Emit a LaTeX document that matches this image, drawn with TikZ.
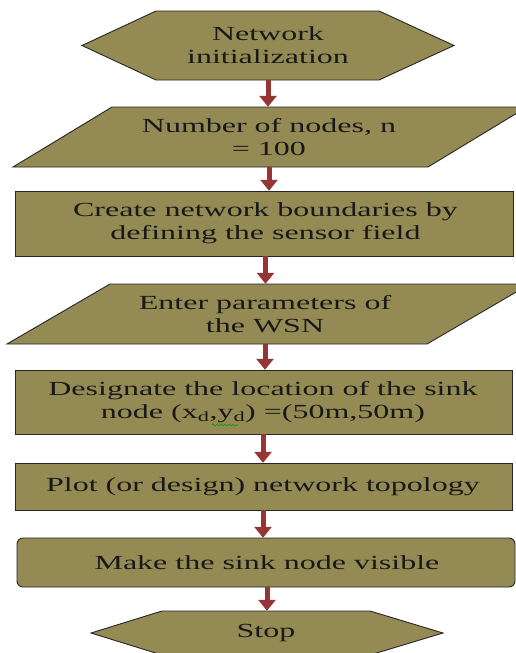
\documentclass[tikz,border=0pt]{standalone}
\usepackage{fontspec}
\setmainfont{Liberation Serif}[FakeStretch=1.6]
\usetikzlibrary{arrows.meta,decorations.pathmorphing}
\definecolor{olivefill}{RGB}{148,138,84}
\definecolor{arrowred}{RGB}{150,54,52}
\tikzset{
  shapeline/.style={fill=olivefill, draw=black!85, line width=0.9pt, line join=miter},
  txt/.style={inner sep=0pt, align=center, font=\fontsize{20}{23}\selectfont, text=black!90},
  flowarrow/.style={draw=arrowred, line width=5pt, -{Triangle[width=17pt,length=11pt]}, arrowred},
}
\begin{document}
\begin{tikzpicture}[x=1pt,y=-1pt]
\useasboundingbox (0,0) rectangle (516,653);
\fill[white] (0,0) rectangle (516,653);
\begin{scope}
\clip (0,0) rectangle (516,653);
% shapes
\draw[shapeline] (82,45.5) -- (156,11) -- (379,11) -- (454,45.5) -- (379,80) -- (156,80) -- cycle;
\draw[shapeline] (13,167) -- (112,107) -- (527,107) -- (428,167) -- cycle;
\draw[shapeline] (15,191) rectangle (513,256);
\draw[shapeline] (7,344) -- (110,284) -- (530,284) -- (427,344) -- cycle;
\draw[shapeline] (15,370) rectangle (512,434);
\draw[shapeline] (15,463) rectangle (512,510);
\draw[shapeline, rounded corners=6pt] (17,538) rectangle (515,587);
\draw[shapeline] (91,633) -- (162,611) -- (370,611) -- (443,633) -- (370,655) -- (162,655) -- cycle;
\end{scope}
% text nodes
\node[txt, minimum height=69pt] (n1) at (268,45.5) {Network\\initialization};
\node[txt, minimum height=60pt] (n2) at (269,137) {Number of nodes, n\\= 100};
\node[txt, minimum height=65pt] (n3) at (265.5,223.5) {Create network boundaries by\\defining the sensor field};
\node[txt, minimum height=60pt] (n4) at (265,314) {Enter parameters of\\the WSN};
\node[txt, minimum height=64pt] (n5) at (263,402) {Designate the location of the sink\\node (x\textsubscript{d},y\textsubscript{d}) =(50m,50m)};
\node[txt, minimum height=47pt] (n6) at (263,486.5) {Plot (or design) network topology};
\node[txt, minimum height=49pt] (n7) at (267,562.5) {Make the sink node visible};
\node[txt, minimum height=44pt] (n8) at (266,633) {Stop};
% spell-check squiggle
\coordinate (sq1) at (212,425);
\coordinate (sq2) at (238,425);
\draw[green!60!black, line width=0.6pt, decorate, decoration={snake, amplitude=0.9pt, segment length=4pt}] (sq1) -- (sq2);
% arrows
\draw[flowarrow] (n1.south) -- (n1.south |- n2.north);
\draw[flowarrow] (n2.south) -- (n2.south |- n3.north);
\draw[flowarrow] (n3.south) -- (n3.south |- n4.north);
\draw[flowarrow] (n4.south) -- (n4.south |- n5.north);
\draw[flowarrow] (n5.south) -- (n5.south |- n6.north);
\draw[flowarrow] (n6.south) -- (n6.south |- n7.north);
\draw[flowarrow] (n7.south) -- (n7.south |- n8.north);
\end{tikzpicture}
\end{document}
